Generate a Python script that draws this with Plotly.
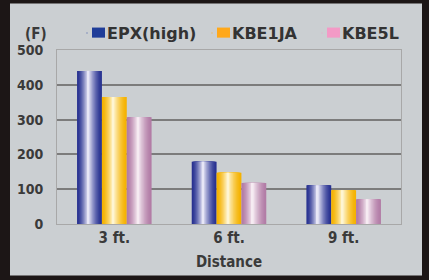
import plotly.graph_objects as go

categories = ["3 ft.", "6 ft.", "9 ft."]
series_names = ["EPX(high)", "KBE1JA", "KBE5L"]
epx_high = [440, 179, 111]
kbe1ja = [365, 147, 97]
kbe5l = [307, 118, 71]
y_ticks = [0, 100, 200, 300, 400, 500]
values = [epx_high, kbe1ja, kbe5l]

edge_colors = [(40, 50, 145), (245, 178, 0), (178, 124, 166)]
light_colors = [(248, 246, 255), (255, 251, 230), (252, 245, 249)]
legend_colors = ["#1f3d99", "#ffa81a", "#f39ac6"]

W, H = 429, 280
L, R, T, B = 57, 28, 50, 54
PW, PH = W - L - R, H - T - B

def px_x(px):
    return (px - L) / PW

def px_y(py):
    return (H - B - py) / PH

def mix(a, b, t):
    return "rgb(%d,%d,%d)" % tuple(round(a[i] + (b[i] - a[i]) * t) for i in range(3))

fig = go.Figure()

group = 0.65
wb = group / 3
N = 18
hl = 0.45
for i, vals in enumerate(values):
    base_off = -group / 2 + i * wb
    c = base_off + hl * wb
    for k in range(N):
        f = 1 - k / N
        t = (1 - f) ** 1.5
        fig.add_trace(go.Bar(
            x=categories, y=vals,
            offset=c - hl * wb * f, width=wb * f,
            marker=dict(color=mix(edge_colors[i], light_colors[i], t), line=dict(width=0)),
            showlegend=False, hoverinfo="skip",
        ))

legend_text_px = [107, 232, 342]
square_px = [92, 217, 327]
legend_names = ["legend", "legend2", "legend3"]
legend_font = dict(family="DejaVu Sans", size=16, color="#333333", weight="bold")
for i, name in enumerate(series_names):
    fig.add_trace(go.Scatter(
        x=[None], y=[None], mode="markers", name=name,
        marker=dict(symbol="square", size=1, color=legend_colors[i], opacity=0),
        legend=legend_names[i],
    ))

narrow = "DejaVu Sans Condensed, sans-serif"
shapes = [dict(
    type="rect", xref="paper", yref="paper", layer="below",
    x0=px_x(10), x1=px_x(422), y0=px_y(278), y1=px_y(3),
    fillcolor="#cbcfd2", line=dict(width=0),
)]
for i in range(3):
    shapes.append(dict(
        type="rect", xref="paper", yref="paper",
        x0=px_x(square_px[i]), x1=px_x(square_px[i] + 13),
        y0=px_y(37.5), y1=px_y(27.3),
        fillcolor=legend_colors[i], line=dict(width=0),
    ))

layout_legends = {}
for i, ln in enumerate(legend_names):
    layout_legends[ln] = dict(
        orientation="h", x=px_x(legend_text_px[i] - 40), xanchor="left",
        y=px_y(33), yanchor="middle", font=legend_font,
        bgcolor="rgba(0,0,0,0)", borderwidth=0, itemwidth=30,
    )

fig.update_layout(
    width=W, height=H,
    margin=dict(l=L, r=R, t=T, b=B),
    barmode="overlay",
    paper_bgcolor="#1c1616",
    plot_bgcolor="#ffffff",
    showlegend=True,
    xaxis=dict(
        type="category", range=[-0.5, 2.5],
        showgrid=False, showline=True, linecolor="#a8a8a8", linewidth=1, mirror=True,
        ticks="", tickfont=dict(family=narrow, size=15, color="#3a3a3a", weight="bold"),
        title=dict(text="Distance", font=dict(family=narrow, size=15, color="#3a3a3a", weight="bold"), standoff=10),
    ),
    yaxis=dict(
        range=[0, 500], tickvals=y_ticks, ticktext=[str(v) for v in y_ticks],
        showgrid=True, gridcolor="#7c7c7c", gridwidth=2,
        showline=True, linecolor="#a8a8a8", linewidth=1, mirror=True,
        zeroline=False, ticks="", ticklabelstandoff=10,
        tickfont=dict(family=narrow, size=14, color="#3a3a3a", weight="bold"),
    ),
    shapes=shapes,
    annotations=[dict(
        text="(F)", xref="paper", yref="paper",
        x=px_x(36), y=px_y(34),
        xanchor="center", yanchor="middle", showarrow=False,
        font=dict(family=narrow, size=15, color="#3a3a3a", weight="bold"),
    )],
    **layout_legends,
)

fig.write_html(
    "out.html",
    config={"displayModeBar": False},
    post_script="document.body.style.margin='0';document.body.style.overflow='hidden';",
)
